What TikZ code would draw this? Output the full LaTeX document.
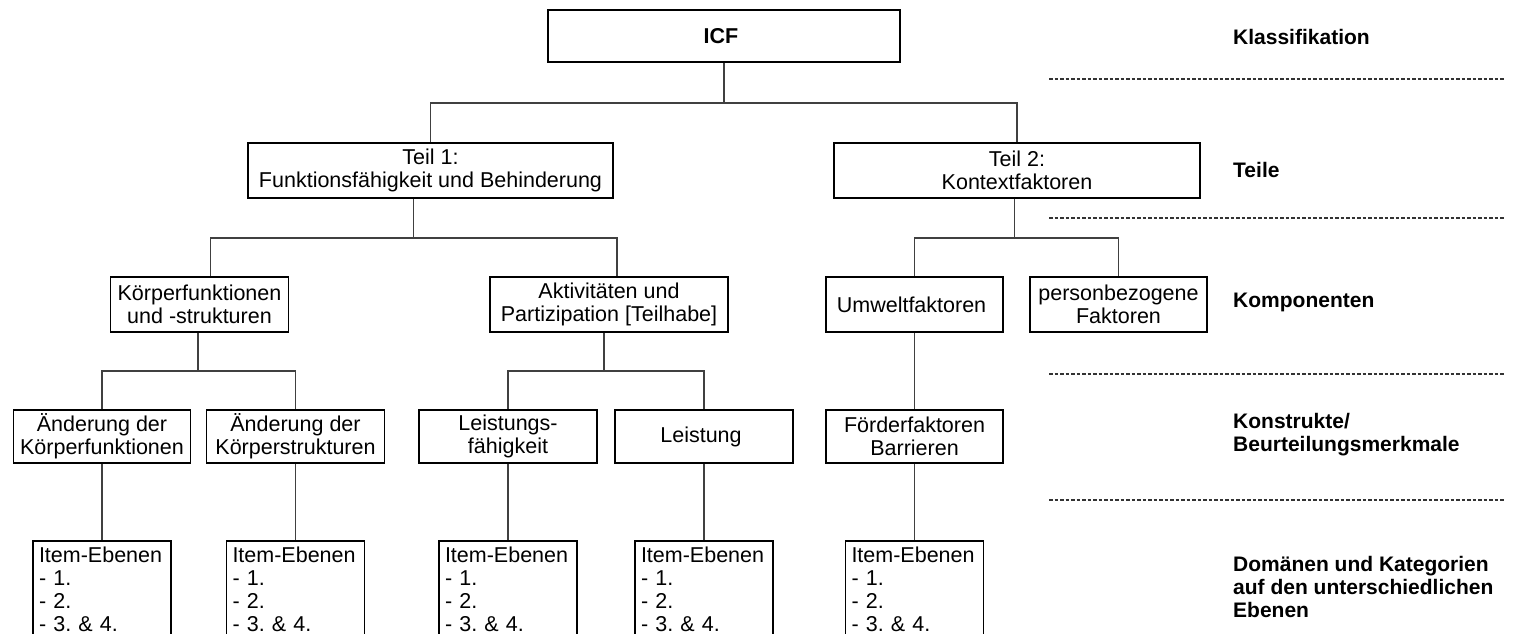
\documentclass[tikz,border=0pt]{standalone}
\usepackage{fontspec}
\setmainfont{Liberation Sans}
\usetikzlibrary{positioning}

\begin{document}
\begin{tikzpicture}[x = 1pt, y = -1pt,
    every node/.style = { font = \fontsize{21.5}{23}\selectfont },
    block/.style = { draw, line width = 1.7pt, align = center, inner sep = 0pt, minimum height = 55pt },
    itemblock/.style = { draw, line width = 1.7pt, align = left, inner xsep = 6pt, inner ysep = 6pt, text width = 126pt },
    levellabel/.style = { font = \fontsize{21}{23}\selectfont\bfseries, align = left, anchor = west, inner sep = 0pt },
    fork/.style = { draw = black!75, line width = 1.6pt },
    divider/.style = { draw = black!80, line width = 1.2pt, dash pattern = on 3.5pt off 2pt }]
    \useasboundingbox (0,0) rectangle (1522,633);
    \clip (0,0) rectangle (1522,633);

    % Klassifikation und Teile
    \node [block, minimum width = 352pt, minimum height = 52pt, font = \fontsize{21.5}{23}\selectfont\bfseries] (icf) at (724,36) { ICF };
    \node [block, minimum width = 365pt] (teil1) at (430.5,170.5) { Teil 1: \\ Funktionsfähigkeit und Behinderung };
    \node [block, minimum width = 366pt] (teil2) at (1017,170.5) { Teil 2: \\ Kontextfaktoren };

    % Komponenten
    \node [block, minimum width = 178pt] (koerper) at (199.5,304.5) { Körperfunktionen \\ und -strukturen };
    \node [block, minimum width = 238pt] (aktiv) at (609,304.5) { Aktivitäten und \\ Partizipation [Teilhabe] };
    \node [block, minimum width = 177pt] (umwelt) at (914.5,304.5) { Umweltfaktoren };
    \node [block, minimum width = 177pt] (person) at (1118.5,304.5) { personbezogene \\ Faktoren };

    % Konstrukte
    \node [block, minimum width = 177pt, minimum height = 53pt] (aendkf) at (102,436.5) { Änderung der \\ Körperfunktionen };
    \node [block, minimum width = 178pt, minimum height = 53pt] (aendks) at (295.5,436.5) { Änderung der \\ Körperstrukturen };
    \node [block, minimum width = 178pt, minimum height = 53pt] (lfaehig) at (508,436.5) { Leistungs- \\ fähigkeit };
    \node [block, minimum width = 178pt, minimum height = 53pt] (leistung) at (704,436.5) { Leistung };
    \node [block, minimum width = 177pt, minimum height = 53pt] (foerder) at (914.5,436.5) { Förderfaktoren \\ Barrieren };

    % Item-Ebenen
    \foreach \src in {aendkf, aendks, lfaehig, leistung, foerder} {
      \node [itemblock, below = 76pt of \src] (item-\src) { Item-Ebenen \\ - 1. \\ - 2. \\ - 3.\ \& 4. };
      \draw [fork] (\src.south) -- (item-\src.north);
    }

    % Verbindungen
    \coordinate (f0) at ([yshift = -40pt]icf.south);
    \draw [fork] (icf.south) -- (f0);
    \draw [fork] (teil1.north) |- (f0) -| (teil2.north);
    \coordinate (f1) at ([xshift = -17pt, yshift = -39pt]teil1.south);
    \draw [fork] (teil1.south -| f1) -- (f1);
    \draw [fork] ([xshift = 11pt]koerper.north) |- (f1) -| ([xshift = 8pt]aktiv.north);
    \coordinate (f2) at ([xshift = -2.5pt, yshift = -39pt]teil2.south);
    \draw [fork] (teil2.south -| f2) -- (f2);
    \draw [fork] (umwelt.north) |- (f2) -| (person.north);
    \coordinate (f3) at ([xshift = -1.5pt, yshift = -38pt]koerper.south);
    \draw [fork] (koerper.south -| f3) -- (f3);
    \draw [fork] (aendkf.north) |- (f3) -| (aendks.north);
    \coordinate (f4) at ([xshift = -5pt, yshift = -38pt]aktiv.south);
    \draw [fork] (aktiv.south -| f4) -- (f4);
    \draw [fork] (lfaehig.north) |- (f4) -| (leistung.north);
    \draw [fork] (umwelt.south) -- (foerder.north);

    % Ebenen
    \node [levellabel] (lklass) at (1233,37) { Klassifikation };
    \node [levellabel] (lteile) at (1233,170) { Teile };
    \node [levellabel] (lkomp) at (1233,302) { Komponenten };
    \node [levellabel] (lkonstr) at (1233,434.5) { Konstrukte/ \\ Beurteilungsmerkmale };
    \node [levellabel] (ldom) at (1233,587) { Domänen und Kategorien \\ auf den unterschiedlichen \\ Ebenen };
    \foreach \y in {79, 218, 374, 500}
      \draw [divider] (1049,\y) -- (1505,\y);
\end{tikzpicture}
\end{document}
